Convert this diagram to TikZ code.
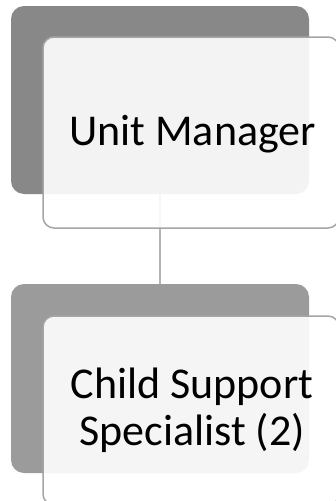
\documentclass[tikz,border=0pt]{standalone}
\usepackage{fontspec}
\setmainfont{Carlito}
\definecolor{darkA}{HTML}{888888}
\definecolor{darkB}{HTML}{9B9B9B}
\definecolor{rimgray}{HTML}{A5A5A5}
\definecolor{linkgray}{HTML}{B4B4B4}
\begin{document}
\begin{tikzpicture}[x=1pt,y=-1pt,
  backbox/.style={rectangle, rounded corners=13pt, inner sep=0pt, outer sep=0pt, draw=none},
  frontbox/.style={rectangle, rounded corners=11pt, inner sep=0pt, outer sep=0pt,
     draw=rimgray, line width=1.5pt, fill=white, fill opacity=0.9,
     minimum width=296pt},
  label/.style={font=\fontsize{44}{47}\selectfont, align=center, inner sep=0pt, text=black},
  link/.style={draw=linkgray, line width=1.5pt}]
\useasboundingbox (0,0) rectangle (336,501);
% back boxes
\node[backbox, fill=darkA, minimum width=298pt, minimum height=188pt] (dark1) at (160,100) {};
\node[backbox, fill=darkB, minimum width=298pt, minimum height=189pt] (dark2) at (160,378.5) {};
% connector
\draw[link] (dark1.south) -- (dark2.north);
% front boxes
\node[frontbox, minimum height=191pt] (light1) at (191,132.5) {};
\node[frontbox, minimum height=189pt] (light2) at (191,410.5) {};
% texts
\node[label, anchor=base] (t1) at (192.5,145) {Unit Manager};
\node[label, anchor=base] (t2) at (192,445) {Child Support\\Specialist (2)};
\end{tikzpicture}
\end{document}
